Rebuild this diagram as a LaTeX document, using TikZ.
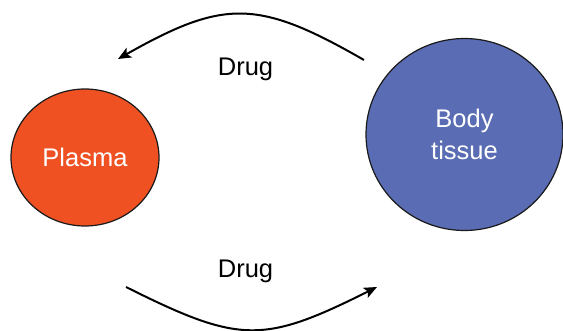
\documentclass[tikz,border=0pt]{standalone}
\usepackage{fontspec}
\setmainfont{Liberation Sans}
\usetikzlibrary{arrows.meta}
\definecolor{plasmafill}{HTML}{EF5123}
\definecolor{tissuefill}{HTML}{5A6CB3}
\definecolor{edgecol}{HTML}{1A1A1A}
\tikzset{
  blob/.style={draw=edgecol, line width=1.2pt, ellipse, inner sep=0pt, text=white, align=center,
    font=\fontsize{25.5}{32}\selectfont},
  flow/.style={line width=2pt, -{Stealth[length=13pt,width=11pt,inset=3pt]}},
  lbl/.style={font=\fontsize{25.5}{32}\selectfont, text=black}
}
\usetikzlibrary{shapes.geometric}
\begin{document}
\begin{tikzpicture}[x=1pt,y=-1pt]
\useasboundingbox (0,0) rectangle (563,331);
\node[blob, fill=plasmafill, minimum width=148pt, minimum height=137pt] (plasma) at (85,157.5) {Plasma};
\node[blob, fill=tissuefill, minimum width=197pt, minimum height=192pt] (tissue) at (464.5,134.5) {Body\\tissue};
\node[lbl] (drugtop) at (245.5,69.5) {Drug};
\node[lbl] (drugbot) at (245.5,271) {Drug};
\coordinate (ts) at (364,60);
\coordinate (te) at (118,59);
\coordinate (bs) at (126,287);
\coordinate (be) at (377,287);
\draw[flow] (ts) .. controls (258,-1) and (224,-1) .. (te);
\draw[flow] (bs) .. controls (240,344) and (263,344) .. (be);
\end{tikzpicture}
\end{document}
